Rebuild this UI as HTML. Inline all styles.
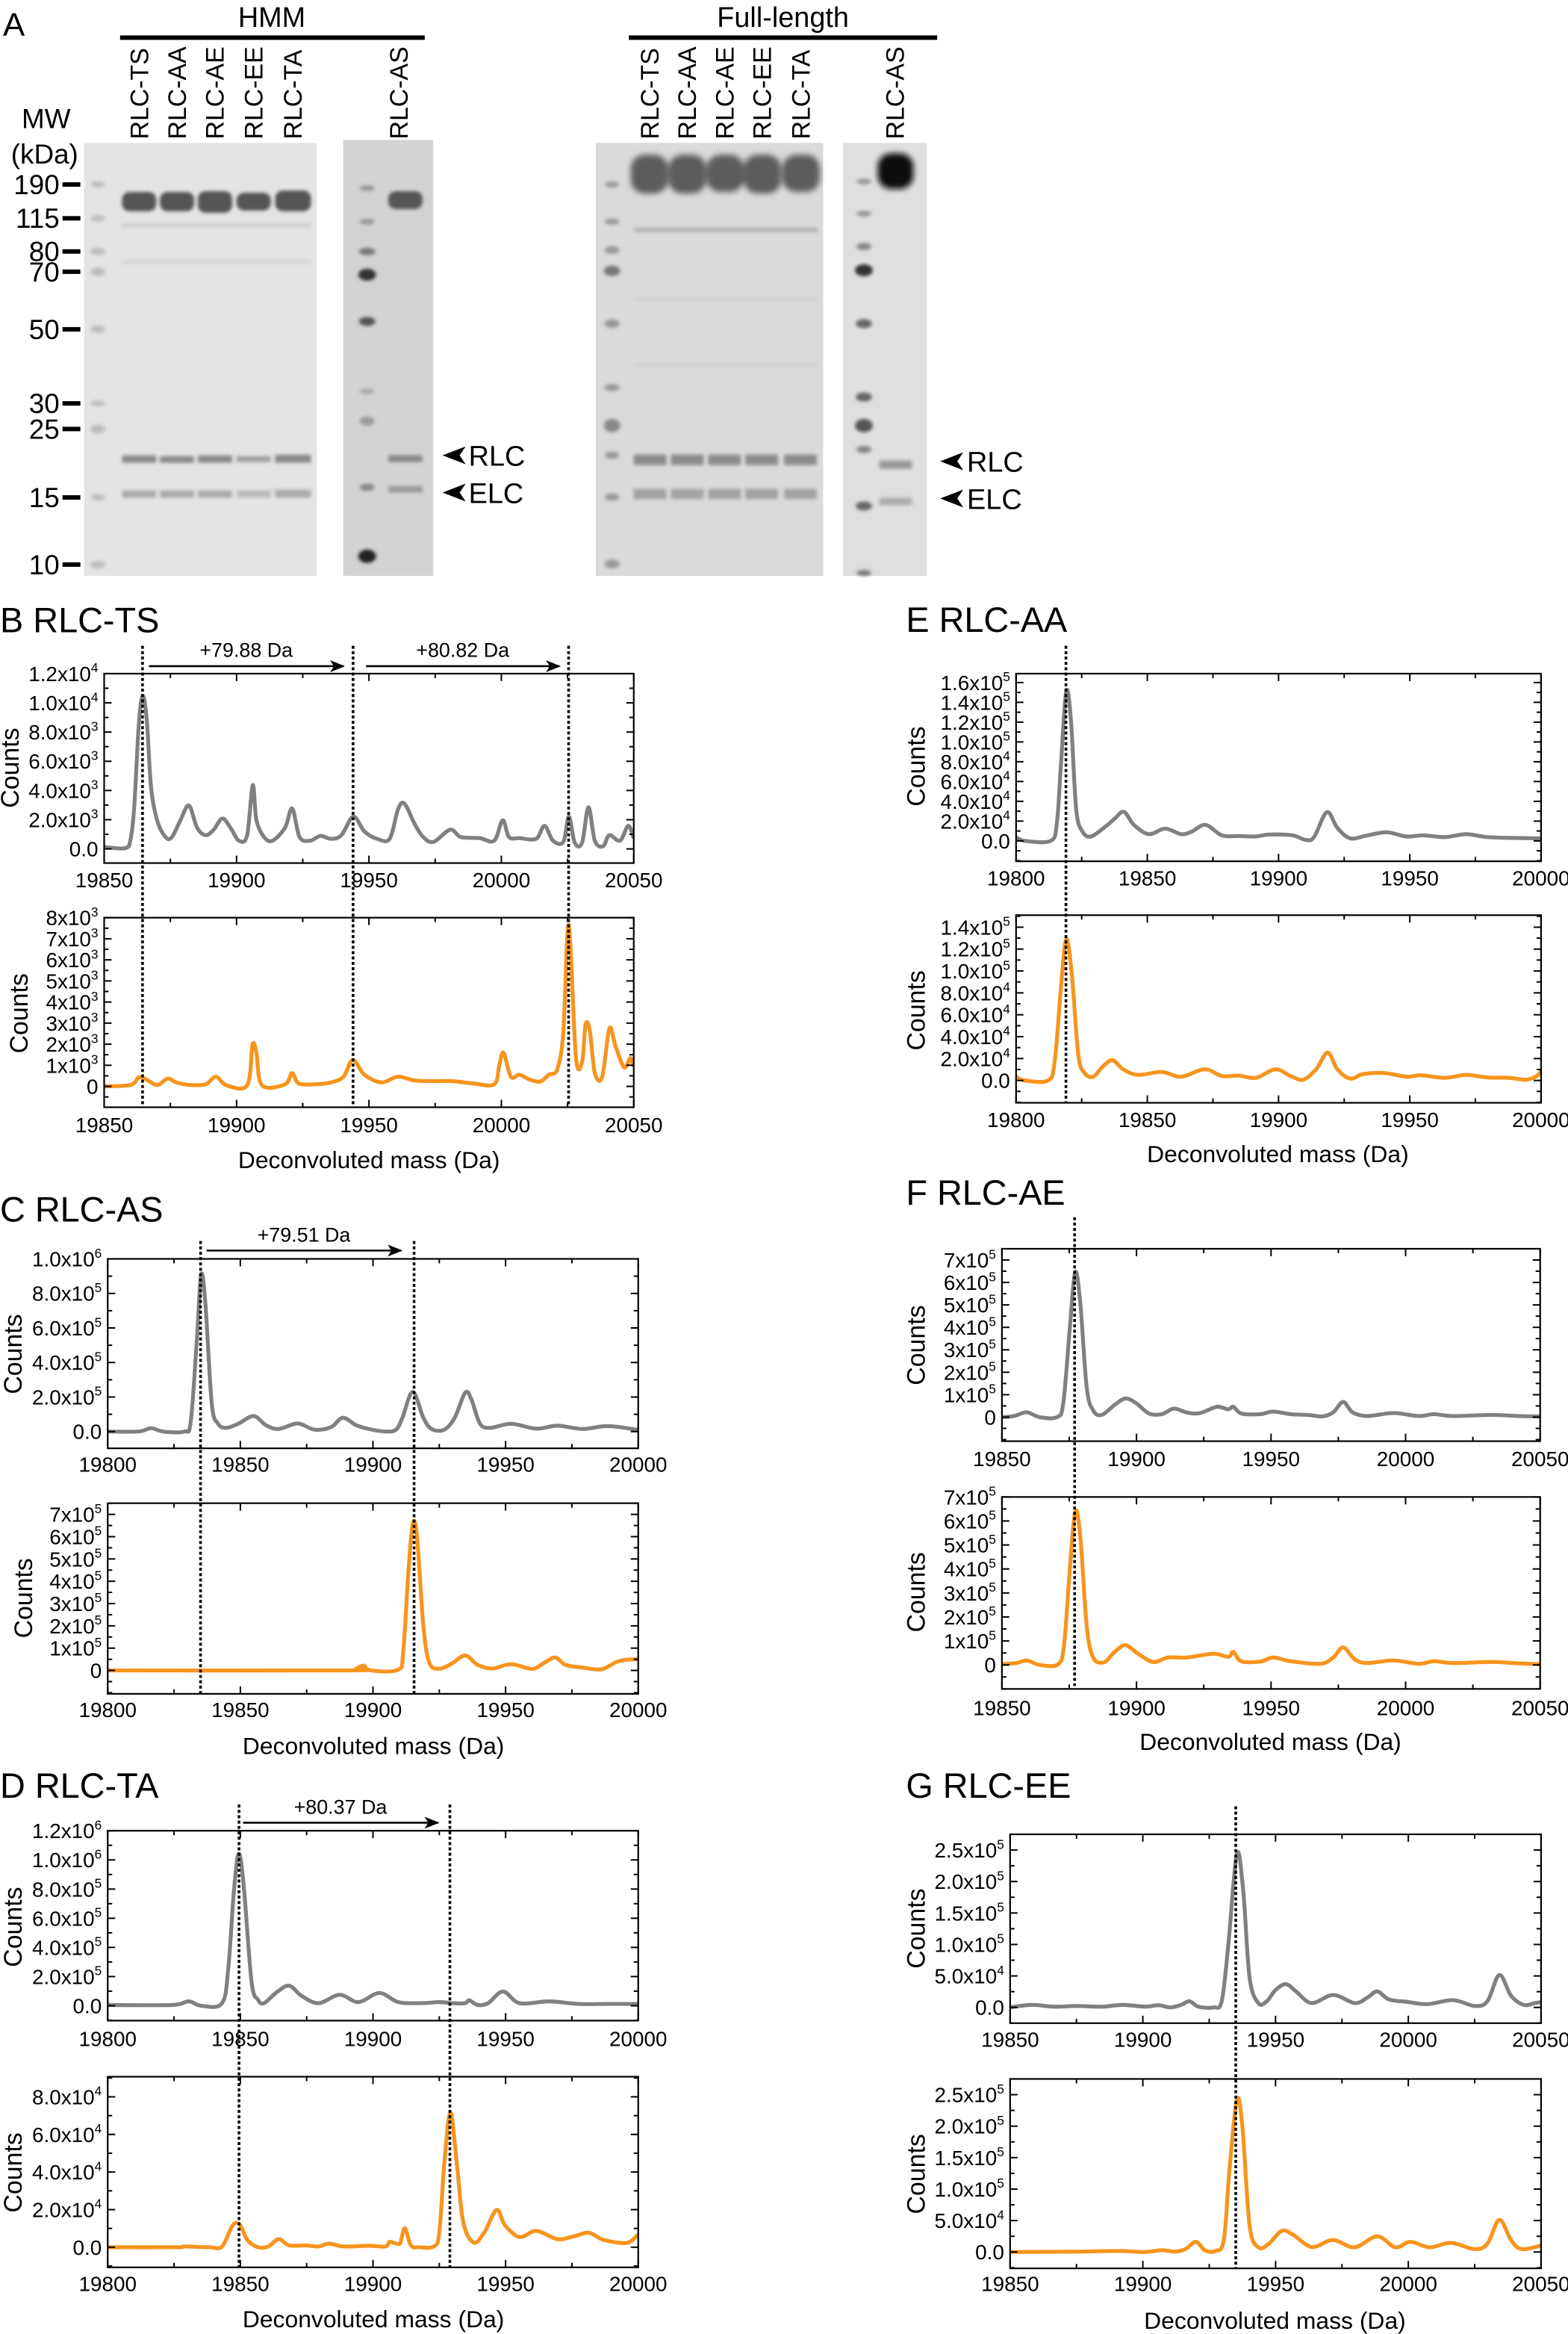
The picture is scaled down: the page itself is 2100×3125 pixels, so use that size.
<!DOCTYPE html>
<html><head><meta charset="utf-8"><title>RLC gels and mass spectra</title>
<style>
html,body{margin:0;padding:0;background:#fff;}
svg{display:block;font-family:"Liberation Sans",Arial,sans-serif;}
</style></head>
<body>
<svg id="fig" width="2100" height="3125" viewBox="0 0 1054 1568.5" xmlns="http://www.w3.org/2000/svg">
<defs>
<filter id="blur1" x="-50%" y="-50%" width="200%" height="200%"><feGaussianBlur stdDeviation="1.2"/></filter>
<filter id="blur2" x="-50%" y="-50%" width="200%" height="200%"><feGaussianBlur stdDeviation="2"/></filter>
<marker id="arrowhead" markerWidth="10" markerHeight="8" refX="9" refY="4" orient="auto" markerUnits="userSpaceOnUse"><path d="M0,0 L10,4 L0,8 L2.5,4 Z" fill="#000"/></marker>
</defs>
<rect x="0" y="0" width="1054" height="1568.5" fill="#fff"/>
<g>
<text x="2" y="24" font-size="22">A</text>
<text x="182.7" y="18" font-size="19" text-anchor="middle">HMM</text>
<rect x="80.7" y="23.8" width="204.8" height="3" fill="#000"/>
<text x="526.3" y="18" font-size="19" text-anchor="middle">Full-length</text>
<rect x="422.7" y="23.8" width="207.3" height="3" fill="#000"/>
<g font-size="17">
<text transform="translate(99.5,93.6) rotate(-90)">RLC-TS</text>
<text transform="translate(124.9,93.6) rotate(-90)">RLC-AA</text>
<text transform="translate(150.3,93.6) rotate(-90)">RLC-AE</text>
<text transform="translate(176.5,93.6) rotate(-90)">RLC-EE</text>
<text transform="translate(202.7,93.6) rotate(-90)">RLC-TA</text>
<text transform="translate(274.1,93.6) rotate(-90)">RLC-AS</text>
<text transform="translate(442.7,93.6) rotate(-90)">RLC-TS</text>
<text transform="translate(467.7,93.6) rotate(-90)">RLC-AA</text>
<text transform="translate(493.1,93.6) rotate(-90)">RLC-AE</text>
<text transform="translate(518.1,93.6) rotate(-90)">RLC-EE</text>
<text transform="translate(544.3,93.6) rotate(-90)">RLC-TA</text>
<text transform="translate(607.6,93.6) rotate(-90)">RLC-AS</text>
</g>
<text x="31" y="86" font-size="18.5" text-anchor="middle">MW</text>
<text x="30" y="110" font-size="18.5" text-anchor="middle">(kDa)</text>
<g font-size="18.5" text-anchor="end">
<text x="40" y="130.5">190</text><rect x="42" y="122.5" width="12" height="3" fill="#000"/>
<text x="40" y="153.2">115</text><rect x="42" y="145.2" width="12" height="3" fill="#000"/>
<text x="40" y="175.5">80</text><rect x="42" y="167.5" width="12" height="3" fill="#000"/>
<text x="40" y="189.1">70</text><rect x="42" y="181.1" width="12" height="3" fill="#000"/>
<text x="40" y="227.8">50</text><rect x="42" y="219.8" width="12" height="3" fill="#000"/>
<text x="40" y="277.6">30</text><rect x="42" y="269.6" width="12" height="3" fill="#000"/>
<text x="40" y="294.8">25</text><rect x="42" y="286.8" width="12" height="3" fill="#000"/>
<text x="40" y="340.8">15</text><rect x="42" y="332.8" width="12" height="3" fill="#000"/>
<text x="40" y="385.9">10</text><rect x="42" y="377.9" width="12" height="3" fill="#000"/>
</g>
<g>
<rect x="56.5" y="96" width="156.5" height="291" fill="#e4e4e4"/>
<g fill="#bdbdbd" filter="url(#blur1)">
<ellipse cx="65.7" cy="124" rx="5" ry="2.2"/><ellipse cx="65.7" cy="146.7" rx="5" ry="2.2"/><ellipse cx="65.7" cy="169" rx="5" ry="2.5"/><ellipse cx="65.7" cy="182.6" rx="5" ry="3"/><ellipse cx="65.7" cy="221.3" rx="5" ry="2.5"/><ellipse cx="65.7" cy="271.1" rx="5" ry="2"/><ellipse cx="65.7" cy="288.3" rx="5" ry="3"/><ellipse cx="65.7" cy="334.3" rx="5" ry="2.2"/><ellipse cx="65.7" cy="379.4" rx="5" ry="2.5"/>
</g>
<g fill="#555" filter="url(#blur1)">
<rect x="82" y="129" width="23" height="13" rx="5"/><rect x="107.5" y="129" width="23" height="13" rx="5"/><rect x="133" y="128.5" width="23" height="14.5" rx="5"/><rect x="159" y="129.5" width="23" height="12" rx="5"/><rect x="185" y="128" width="24" height="14" rx="5"/>
</g>
<g fill="#d2d2d2" filter="url(#blur1)"><rect x="82" y="150" width="127" height="3"/><rect x="82" y="175" width="127" height="2"/></g>
<g fill="#8a8a8a" filter="url(#blur1)">
<rect x="82" y="306" width="23" height="5"/><rect x="107.5" y="306.5" width="23" height="4.5"/><rect x="133" y="306" width="23" height="5"/><rect x="159" y="306.5" width="23" height="4" fill="#a0a0a0"/><rect x="185" y="305.5" width="24" height="5.5"/>
</g>
<g fill="#ababab" filter="url(#blur1)">
<rect x="82" y="329.5" width="23" height="5"/><rect x="107.5" y="329.5" width="23" height="5"/><rect x="133" y="329.5" width="23" height="5"/><rect x="159" y="329.5" width="23" height="5" fill="#bbb"/><rect x="185" y="329" width="24" height="5.5"/>
</g>
</g>
<g>
<rect x="230.7" y="94" width="60.5" height="293" fill="#d3d3d3"/>
<g filter="url(#blur1)">
<ellipse cx="246.8" cy="126.5" rx="5" ry="2" fill="#999"/><ellipse cx="246.8" cy="149" rx="5" ry="2" fill="#999"/><ellipse cx="246.8" cy="169" rx="5.5" ry="2.5" fill="#777"/><ellipse cx="246.8" cy="184.6" rx="6" ry="4" fill="#333"/><ellipse cx="246.8" cy="216" rx="5.5" ry="3" fill="#555"/><ellipse cx="246.8" cy="263" rx="5" ry="2" fill="#aaa"/><ellipse cx="246.8" cy="283" rx="5" ry="3" fill="#999"/><ellipse cx="246.8" cy="327.5" rx="5" ry="2.5" fill="#888"/><ellipse cx="246.8" cy="373.8" rx="6" ry="4.5" fill="#222"/>
<rect x="261" y="128.5" width="23" height="12" rx="5" fill="#555"/>
<rect x="261" y="306" width="23" height="4.5" fill="#888"/>
<rect x="261" y="326.5" width="23" height="4.5" fill="#9a9a9a"/>
</g>
</g>
<g>
<polygon points="297.5,306 313,300 309,306 313,312" fill="#000"/>
<text x="315" y="313" font-size="19">RLC</text>
<polygon points="297.5,331 313,325 309,331 313,337" fill="#000"/>
<text x="315" y="338" font-size="19">ELC</text>
</g>
<g>
<rect x="400.5" y="96" width="152.8" height="291" fill="#dadada"/>
<g fill="#999" filter="url(#blur1)">
<ellipse cx="411.4" cy="124" rx="5" ry="2"/><ellipse cx="411.4" cy="149" rx="5" ry="2"/><ellipse cx="411.4" cy="168" rx="5" ry="2.5"/><ellipse cx="411.4" cy="182" rx="5.5" ry="3.5" fill="#777"/><ellipse cx="411.4" cy="217.5" rx="5" ry="3"/><ellipse cx="411.4" cy="260.5" rx="5" ry="2.5"/><ellipse cx="411.4" cy="286" rx="5.5" ry="4.5" fill="#888"/><ellipse cx="411.4" cy="306" rx="5" ry="2.5"/><ellipse cx="411.4" cy="334" rx="5" ry="2.5"/><ellipse cx="411.4" cy="379" rx="5" ry="3"/>
</g>
<g fill="#5c5c5c" filter="url(#blur2)">
<rect x="424" y="104" width="25" height="26" rx="9"/><rect x="449.5" y="104" width="25" height="26" rx="9"/><rect x="475" y="104" width="25" height="25" rx="9"/><rect x="500" y="104" width="25" height="26" rx="9"/><rect x="526" y="104" width="25" height="25" rx="9"/>
</g>
<g fill="#b5b5b5" filter="url(#blur1)"><rect x="426" y="153" width="124" height="3"/><rect x="426" y="200" width="124" height="2" fill="#cdcdcd"/><rect x="426" y="244" width="124" height="2" fill="#cdcdcd"/></g>
<g fill="#8c8c8c" filter="url(#blur1)">
<rect x="426" y="305.5" width="22" height="7"/><rect x="451" y="305.5" width="22" height="7"/><rect x="476" y="305.5" width="22" height="7"/><rect x="501" y="305.5" width="22" height="7"/><rect x="527" y="305.5" width="22" height="7"/>
</g>
<g fill="#a3a3a3" filter="url(#blur1)">
<rect x="426" y="328.5" width="22" height="7"/><rect x="451" y="328.5" width="22" height="7"/><rect x="476" y="328.5" width="22" height="7"/><rect x="501" y="328.5" width="22" height="7"/><rect x="527" y="328.5" width="22" height="7"/>
</g>
</g>
<g>
<rect x="566.7" y="96" width="56.3" height="291" fill="#dfdfdf"/>
<g filter="url(#blur1)">
<ellipse cx="580.7" cy="122" rx="5" ry="2" fill="#999"/><ellipse cx="580.7" cy="143.6" rx="5" ry="2" fill="#999"/><ellipse cx="580.7" cy="165.7" rx="5" ry="2.5" fill="#888"/><ellipse cx="580.7" cy="181.6" rx="6" ry="4" fill="#333"/><ellipse cx="580.7" cy="217.5" rx="5.5" ry="3" fill="#666"/><ellipse cx="580.7" cy="266.8" rx="5.5" ry="3" fill="#666"/><ellipse cx="580.7" cy="286" rx="6" ry="4.5" fill="#555"/><ellipse cx="580.7" cy="302" rx="5" ry="2.5" fill="#888"/><ellipse cx="580.7" cy="340" rx="5.5" ry="3" fill="#666"/><ellipse cx="580.7" cy="385" rx="5" ry="2" fill="#777"/>
<rect x="591" y="309.5" width="22" height="5.5" fill="#9a9a9a"/>
<rect x="591" y="334.5" width="22" height="5" fill="#acacac"/>
</g>
<rect x="590" y="103" width="24" height="24" rx="9" fill="#111" filter="url(#blur2)"/>
</g>
<g>
<polygon points="632,310 647.5,304 643.5,310 647.5,316" fill="#000"/>
<text x="650" y="317" font-size="19">RLC</text>
<polygon points="632,335 647.5,329 643.5,335 647.5,341" fill="#000"/>
<text x="650" y="342" font-size="19">ELC</text>
</g>
</g>
<g font-size="23.5">
<text x="0" y="425">B  RLC-TS</text>
<text x="0" y="821">C RLC-AS</text>
<text x="0" y="1208">D  RLC-TA</text>
<text x="609" y="424.5">E  RLC-AA</text>
<text x="609" y="809.5">F  RLC-AE</text>
<text x="609" y="1208">G RLC-EE</text>
</g>
<g id="charts"></g>
</svg>
<script>
const xTicksB = [19850, 19900, 19950, 20000, 20050];
const xTicksC = [19800, 19850, 19900, 19950, 20000];

const bTopMass = [19850,19858,19860,19861.4,19863,19864.5,19866.1,19867.7,19870,19873.2,19875.6,19878.8,19882,19885.1,19888.3,19891.4,19894.6,19897.7,19900.9,19904,19906.1,19907.5,19910.4,19913.6,19918.3,19921,19923.8,19927.8,19931.7,19935.7,19939.6,19944.1,19948.3,19953.1,19957.8,19961,19963.4,19967.3,19970.5,19974.4,19980.7,19984.7,19991.8,19997.3,20000.5,20002.9,20006.8,20013.1,20016.3,20019.5,20023.4,20025.5,20027.7,20030.5,20032.9,20035.3,20038.4,20040.8,20044.8,20047.9,20049.8];
const bTopCounts = [130,50,690,2970,8300,10470,8820,4250,1960,810,810,1960,2970,1450,940,1320,2080,1450,560,940,4370,1960,810,560,1450,2770,810,560,890,690,940,2210,1190,690,690,2720,3100,1700,810,480,1320,810,740,560,1960,810,740,690,1580,560,480,2210,430,430,2850,560,180,940,560,1580,810];
const bBotMass = [19850,19860,19863,19865.3,19870,19874,19877.2,19882,19888.3,19892.2,19896.2,19904,19906,19907.5,19909.6,19918.3,19921,19923.4,19929.4,19935.7,19940.4,19943.9,19948.3,19954.7,19961,19967.3,19975.2,19981.5,19989.4,19997.3,19999.2,20000.8,20003.6,20006.8,20010.8,20014.7,20017.9,20021.1,20023.4,20025,20026.1,20028.2,20030.5,20031.8,20033.4,20035.3,20038.1,20040.8,20043.2,20046.4,20048.7,20049.8];
const bBotCounts = [0,70,420,370,70,370,190,70,100,460,50,50,1960,1600,50,100,630,140,100,190,460,1250,550,190,460,280,250,250,140,100,990,1600,460,550,320,230,550,810,2570,7330,6620,1340,1160,2930,2660,630,460,2750,1870,900,1340,990];
const bYTicksTop = [0,2000,4000,6000,8000,10000,12000];
const bYLabelsTop = ["0.0","2.0x10^3","4.0x10^3","6.0x10^3","8.0x10^3","1.0x10^4","1.2x10^4"];
const bYTicksBot = [0,1000,2000,3000,4000,5000,6000,7000,8000];
const bYLabelsBot = ["0","1x10^3","2x10^3","3x10^3","4x10^3","5x10^3","6x10^3","7x10^3","8x10^3"];
const bMarkers = [19864.5, 19944, 20025.4];
const bShiftStart = [19866.9, 19948.9];
const bShiftEnd = [19940.4, 20021.9];
const bShiftLabels = ["+79.88 Da", "+80.82 Da"];

const cTopMass = [19800,19811.5,19816.3,19821,19828.9,19831.3,19833.6,19835.2,19836.8,19839.2,19841.5,19844.7,19849.4,19855,19859.7,19864.5,19871.6,19877.9,19884.2,19888.6,19893.7,19898.4,19904.7,19908.7,19911.1,19915,19919,19922.1,19926.9,19930.8,19934.8,19937.1,19940.3,19944.2,19952.1,19961.6,19969.5,19979,19988.5,19999.5];
const cTopCounts = [0,0,19000,0,0,58000,531000,907000,746000,166000,47000,21500,47000,90000,36500,15000,47000,11000,26000,80000,36500,15000,0,11000,80000,230000,80000,15000,11000,80000,226000,187000,47000,21500,45000,17000,34000,15000,32000,11000];
const cBotMass = [19800,19890.5,19893.7,19896.5,19899.2,19909.5,19911.4,19913.4,19915,19916.6,19919,19921.3,19925.3,19930,19934.8,19939.5,19945,19952.1,19960,19964.4,19968.7,19972.6,19979,19986.1,19991.6,19994.8,19999.5];
const cBotCounts = [0,0,8300,21700,0,3300,83000,450000,658000,600000,200000,33000,8300,33000,67000,25000,8300,28000,6700,33000,58000,25000,13000,5000,37000,47000,50000];
const cYTicksTop = [0,200000,400000,600000,800000,1000000];
const cYLabelsTop = ["0.0","2.0x10^5","4.0x10^5","6.0x10^5","8.0x10^5","1.0x10^6"];
const cYTicksBot = [0,100000,200000,300000,400000,500000,600000,700000];
const cYLabelsBot = ["0","1x10^5","2x10^5","3x10^5","4x10^5","5x10^5","6x10^5","7x10^5"];
const cMarkers = [19835, 19915.5];
const cShiftStart = [19837.3];
const cShiftEnd = [19910.6];
const cShiftLabels = ["+79.51 Da"];

const dTopMass = [19800,19824.2,19830.5,19835.2,19843.1,19845.5,19847.6,19849.4,19851.3,19854.2,19856.6,19858.9,19863.7,19868.4,19873.1,19879.5,19887.4,19894.5,19902.4,19909.5,19917.4,19925.3,19930,19934.8,19936.3,19939.5,19943.4,19949,19955.3,19966.4,19977.4,19988.5,19999.5];
const dTopCounts = [5000,5000,30000,0,17500,267000,792000,1042000,817000,167000,42500,17500,92500,137500,67500,17500,75000,25000,87500,25000,17500,25000,17500,17500,37500,5000,17500,97500,17500,30000,12500,12500,12500];
const dBotMass = [19800,19825.7,19828.9,19838.4,19843.1,19847.1,19849.8,19852.6,19856.6,19860.5,19864.5,19868.4,19874.7,19879.5,19883.4,19888.9,19898.4,19904.7,19906.3,19908.7,19910.3,19912,19914.3,19917.4,19922.9,19925,19926.9,19929.2,19931.6,19934,19937.9,19941.9,19946.6,19949.8,19955.3,19961.6,19969.5,19975.8,19981.4,19986.9,19995.6,19999.5];
const dBotCounts = [0,0,390,0,390,11600,12000,3900,0,390,4300,970,970,390,1940,390,770,390,2900,1940,2300,10100,970,0,390,7700,44600,71700,44600,13600,2500,7700,19800,11600,5400,8700,4300,5800,7700,3900,2300,6200];
const dYTicksTop = [0,200000,400000,600000,800000,1000000,1200000];
const dYLabelsTop = ["0.0","2.0x10^5","4.0x10^5","6.0x10^5","8.0x10^5","1.0x10^6","1.2x10^6"];
const dYTicksBot = [0,20000,40000,60000,80000];
const dYLabelsBot = ["0.0","2.0x10^4","4.0x10^4","6.0x10^4","8.0x10^4"];
const dMarkers = [19849.5, 19929];
const dShiftStart = [19851];
const dShiftEnd = [19924.5];
const dShiftLabels = ["+80.37 Da"];

const eTopMass = [19800,19803.3,19813.1,19815.5,19817.1,19819.1,19820.9,19822.9,19825.3,19828.6,19834.3,19837.6,19841.1,19844.9,19850.6,19856.8,19862.9,19866.9,19872.2,19878.4,19884.9,19891.4,19896.3,19905.3,19910.2,19913.5,19918.4,19922.4,19927.3,19933.9,19941.2,19948.6,19955.1,19963.3,19971.4,19979.6,19989.4,19999.2];
const eTopCounts = [3800,0,0,17000,77000,151000,122000,32000,9400,4500,15000,22600,29400,16200,6800,12400,6800,9400,16200,5600,4900,4500,6400,5600,1100,3800,29000,13200,2600,5600,8700,4500,5600,3800,6800,3800,3000,2600];
const eBotMass = [19800,19803.3,19812.2,19814.7,19817.1,19819.1,19821.2,19823.7,19826.1,19829.4,19832.7,19836.7,19840.8,19846.5,19855.5,19862.9,19871.8,19878.4,19884.9,19891.4,19898.8,19904.5,19909.4,19914.3,19918.7,19922.4,19927.3,19932.2,19940.4,19948.6,19954.3,19963.3,19971.4,19979.6,19987.8,19994.3,19998.4,20000];
const eBotCounts = [3400,0,0,17000,85000,129000,98000,23700,6800,3400,11900,18600,10200,5100,7800,3400,10200,4100,4400,2400,10200,4100,700,10200,25400,10200,1700,5800,6800,3400,4700,2400,5100,2700,2400,700,4100,8500];
const eYTicksTop = [0,20000,40000,60000,80000,100000,120000,140000,160000];
const eYLabelsTop = ["0.0","2.0x10^4","4.0x10^4","6.0x10^4","8.0x10^4","1.0x10^5","1.2x10^5","1.4x10^5","1.6x10^5"];
const eYTicksBot = [0,20000,40000,60000,80000,100000,120000,140000];
const eYLabelsBot = ["0.0","2.0x10^4","4.0x10^4","6.0x10^4","8.0x10^4","1.0x10^5","1.2x10^5","1.4x10^5"];
const eMarkers = [19819];

const fTopMass = [19850,19854.5,19859.2,19864,19870.4,19872.8,19875.2,19877.2,19879.1,19881.5,19883.9,19887.1,19891.9,19895.9,19899.8,19904.6,19909.4,19913.9,19918.9,19923.7,19929.8,19934.1,19936,19938.9,19946,19950.8,19957.2,19963.5,19969.1,19973.1,19976.8,19980.3,19985.8,19995.4,20004.9,20010.5,20017.7,20032,20041.6,20049.5];
const fTopCounts = [0,5000,21500,0,0,63000,394000,645000,510000,132000,30000,10000,55000,83000,63000,16500,13200,38000,20000,18200,46000,35000,46000,16500,13200,25000,13200,10000,3300,21500,68000,21500,5000,18200,5000,13200,5000,10000,5000,3300];
const fBotMass = [19850,19855.3,19859.2,19864,19870.9,19873.1,19875.2,19877.2,19879.1,19881.5,19883.9,19887.9,19891.9,19895.9,19900.6,19906.2,19911.8,19918.9,19928.5,19934.1,19936,19938.9,19946,19950.8,19957.2,19968.3,19973.1,19976.8,19981.1,19985.8,19995.4,20004.9,20010.5,20017.7,20032,20040,20049.5];
const fBotCounts = [3000,7800,18700,0,3000,85600,394000,638000,537000,163000,31000,10900,54500,82500,46700,12400,31000,31000,46700,34000,54500,15600,14000,31000,15600,4700,31000,73000,23300,7800,18700,4700,15600,7800,12400,7800,3000];
const fYTicks = [0,100000,200000,300000,400000,500000,600000,700000];
const fYLabels = ["0","1x10^5","2x10^5","3x10^5","4x10^5","5x10^5","6x10^5","7x10^5"];
const fMarkers = [19877];

const gTopMass = [19850,19857.9,19866.8,19874.9,19884.5,19892.6,19900.7,19905.9,19910.4,19914.4,19917.6,19920.9,19926.5,19929.7,19932.2,19935.4,19937.8,19940.2,19943.5,19946.7,19949.9,19953.9,19958,19963.6,19971.7,19979.8,19984.6,19988.3,19992.7,19999.9,20007.2,20016.9,20025,20029.8,20034.3,20038.7,20043.5,20047.6,20050];
const gTopCounts = [0,4000,1200,2300,1200,4000,1200,3500,0,4000,9800,1200,0,9800,99500,244000,186000,47500,6900,9800,27200,37000,24300,6900,19700,6900,15600,25500,12700,8700,5200,11600,2300,9800,51500,18500,4000,6900,8700];
const gBotMass = [19850,19874.9,19891,19900.7,19907.1,19912,19916,19920,19923.3,19927.3,19930.5,19932.6,19935.4,19937.5,19940.2,19943.5,19947.5,19952.3,19956.4,19962,19965.3,19971.7,19979.8,19988.3,19995.1,20000.8,20008,20016.1,20025,20029.8,20034.3,20038.7,20042.7,20050];
const gBotCounts = [0,600,1700,0,2900,600,4600,16200,2900,1700,19100,129000,242000,199000,42300,7500,13300,33600,27800,10400,8700,19100,7500,24900,7500,16200,7500,14500,4600,13300,51000,19100,4600,10400];
const gYTicks = [0,50000,100000,150000,200000,250000];
const gYLabels = ["0.0","5.0x10^4","1.0x10^5","1.5x10^5","2.0x10^5","2.5x10^5"];
const gMarkers = [19935];

const GRAY = "#808080", ORANGE = "#f7941d";
const NS = "http://www.w3.org/2000/svg";
const root = document.getElementById("charts");

const panels = [
 {key:"b", fx0:70, fx1:426, xmin:19850, xmax:20050, xTicks:xTicksB, markers:bMarkers, mTop:434, mBot:744.1,
  shifts:{s:bShiftStart,e:bShiftEnd,l:bShiftLabels}, shiftY:447.7, shiftLabelY:443.5, xTitleY:785, xTitleX:248,
  plots:[
   {name:"b-top", y0:452.7, y1:580, ymin:-970, ymax:12000, mass:bTopMass, counts:bTopCounts, yt:bYTicksTop, yl:bYLabelsTop, minor:1000, color:GRAY, xlY:596.3, cx:7, cy:516},
   {name:"b-bottom", y0:616.7, y1:744.1, ymin:-990, ymax:8000, mass:bBotMass, counts:bBotCounts, yt:bYTicksBot, yl:bYLabelsBot, minor:500, color:ORANGE, xlY:761, cx:13, cy:681}]},
 {key:"c", fx0:72.4, fx1:429, xmin:19800, xmax:20000, xTicks:xTicksC, markers:cMarkers, mTop:834, mBot:1139,
  shifts:{s:cShiftStart,e:cShiftEnd,l:cShiftLabels}, shiftY:840.4, shiftLabelY:836.5, xTitleY:1178.8, xTitleX:251,
  plots:[
   {name:"c-top", y0:846, y1:973.3, ymin:-97000, ymax:1000000, mass:cTopMass, counts:cTopCounts, yt:cYTicksTop, yl:cYLabelsTop, minor:100000, color:GRAY, xlY:989, cx:9, cy:910},
   {name:"c-bottom", y0:1010.2, y1:1138.3, ymin:-105000, ymax:750000, mass:cBotMass, counts:cBotCounts, yt:cYTicksBot, yl:cYLabelsBot, minor:50000, color:ORANGE, xlY:1153.8, cx:16, cy:1074}]},
 {key:"d", fx0:72.4, fx1:429, xmin:19800, xmax:20000, xTicks:xTicksC, markers:dMarkers, mTop:1212.7, mBot:1523.7,
  shifts:{s:dShiftStart,e:dShiftEnd,l:dShiftLabels}, shiftY:1224.9, shiftLabelY:1221, xTitleY:1564, xTitleX:251,
  plots:[
   {name:"d-top", y0:1230.3, y1:1357.9, ymin:-102000, ymax:1200000, mass:dTopMass, counts:dTopCounts, yt:dYTicksTop, yl:dYLabelsTop, minor:100000, color:GRAY, xlY:1375, cx:9, cy:1295},
   {name:"d-bottom", y0:1395.6, y1:1523.7, ymin:-10700, ymax:90700, mass:dBotMass, counts:dBotCounts, yt:dYTicksBot, yl:dYLabelsBot, minor:10000, color:ORANGE, xlY:1539.6, cx:9, cy:1460}]},
 {key:"e", fx0:683, fx1:1035.9, xmin:19800, xmax:20000, xTicks:xTicksC, markers:eMarkers, mTop:434, mBot:741.1,
  shifts:null, xTitleY:781, xTitleX:859,
  plots:[
   {name:"e-top", y0:452.7, y1:578.8, ymin:-20600, ymax:169000, mass:eTopMass, counts:eTopCounts, yt:eYTicksTop, yl:eYLabelsTop, minor:10000, color:GRAY, xlY:595, cx:616, cy:515},
   {name:"e-bottom", y0:615, y1:741.1, ymin:-20400, ymax:151000, mass:eBotMass, counts:eBotCounts, yt:eYTicksBot, yl:eYLabelsBot, minor:10000, color:ORANGE, xlY:757.3, cx:616, cy:679}]},
 {key:"f", fx0:673.5, fx1:1035.3, xmin:19850, xmax:20050, xTicks:xTicksB, markers:fMarkers, mTop:818, mBot:1133,
  shifts:null, xTitleY:1176, xTitleX:854,
  plots:[
   {name:"f-top", y0:839.2, y1:968.5, ymin:-107000, ymax:750000, mass:fTopMass, counts:fTopCounts, yt:fYTicks, yl:fYLabels, minor:50000, color:GRAY, xlY:985.3, cx:616, cy:904},
   {name:"f-bottom", y0:1006, y1:1135, ymin:-100000, ymax:700000, mass:fBotMass, counts:fBotCounts, yt:fYTicks, yl:fYLabels, minor:50000, color:ORANGE, xlY:1152.6, cx:616, cy:1070}]},
 {key:"g", fx0:679, fx1:1035.9, xmin:19850, xmax:20050, xTicks:xTicksB, markers:gMarkers, mTop:1213.9, mBot:1524.9,
  shifts:null, xTitleY:1565, xTitleX:857,
  plots:[
   {name:"g-top", y0:1232.7, y1:1359.6, ymin:-25000, ymax:275000, mass:gTopMass, counts:gTopCounts, yt:gYTicks, yl:gYLabels, minor:25000, color:GRAY, xlY:1375.5, cx:616, cy:1296},
   {name:"g-bottom", y0:1397.1, y1:1524.4, ymin:-26000, ymax:275000, mass:gBotMass, counts:gBotCounts, yt:gYTicks, yl:gYLabels, minor:25000, color:ORANGE, xlY:1539.6, cx:616, cy:1461}]}
];

function mk(tag, attrs, parent){
  const el = document.createElementNS(NS, tag);
  for (const k in attrs) el.setAttribute(k, attrs[k]);
  parent.appendChild(el);
  return el;
}
function labelText(parent, x, y, str, size, anchor){
  const t = mk("text", {x:x, y:y, "font-size":size, "text-anchor":anchor}, parent);
  const parts = str.split("^");
  t.appendChild(document.createTextNode(parts[0]));
  if (parts.length > 1){
    const s = mk("tspan", {"font-size":size*0.62, dy:-size*0.42}, t);
    s.textContent = parts[1];
  }
  return t;
}
function smoothPath(pts){
  let d = "M" + pts[0][0].toFixed(2) + "," + pts[0][1].toFixed(2);
  for (let i=0;i<pts.length-1;i++){
    const p0 = pts[i-1]||pts[i], p1 = pts[i], p2 = pts[i+1], p3 = pts[i+2]||pts[i+1];
    const c1x = p1[0]+(p2[0]-p0[0])/6, c1y = p1[1]+(p2[1]-p0[1])/6;
    const c2x = p2[0]-(p3[0]-p1[0])/6, c2y = p2[1]-(p3[1]-p1[1])/6;
    d += " C"+c1x.toFixed(2)+","+c1y.toFixed(2)+" "+c2x.toFixed(2)+","+c2y.toFixed(2)+" "+p2[0].toFixed(2)+","+p2[1].toFixed(2);
  }
  return d;
}

panels.forEach(function(P){
  const pg = mk("g", {}, root);
  
  
  const xScale = function(m){ return P.fx0 + (m - P.xmin)/(P.xmax - P.xmin)*(P.fx1 - P.fx0); };

  P.plots.forEach(function(S){
    const g = mk("g", {}, pg);
    
    
    const yScale = function(v){ return S.y1 - (v - S.ymin)/(S.ymax - S.ymin)*(S.y1 - S.y0); };
    const clipId = "clip-" + S.name;
    const cp = mk("clipPath", {id:clipId}, g);
    mk("rect", {x:P.fx0, y:S.y0, width:P.fx1-P.fx0, height:S.y1-S.y0}, cp);

    const pts = S.mass.map(function(m,i){ return [xScale(m), yScale(S.counts[i])]; });
    const line = mk("path", {d:smoothPath(pts), fill:"none", stroke:S.color, "stroke-width":2.6, "stroke-linejoin":"round", "stroke-linecap":"round", "clip-path":"url(#"+clipId+")"}, g);
    
    

    const fr = mk("rect", {x:P.fx0, y:S.y0, width:P.fx1-P.fx0, height:S.y1-S.y0, fill:"none", stroke:"#000", "stroke-width":1.1}, g);
    
    

    const xt = mk("g", {stroke:"#000", "stroke-width":1}, g);
    
    
    const step = P.xTicks[1] - P.xTicks[0];
    P.xTicks.forEach(function(v, i){
      const x = xScale(v);
      mk("line", {x1:x, y1:S.y1, x2:x, y2:S.y1-5}, xt);
      mk("line", {x1:x, y1:S.y0, x2:x, y2:S.y0+5}, xt);
      if (i < P.xTicks.length-1){
        const xm = xScale(v + step/2);
        mk("line", {x1:xm, y1:S.y1, x2:xm, y2:S.y1-3}, xt);
        mk("line", {x1:xm, y1:S.y0, x2:xm, y2:S.y0+3}, xt);
      }
    });
    const xl = mk("g", {}, g);
    
    
    P.xTicks.forEach(function(v){
      const t = labelText(xl, xScale(v), S.xlY, String(v), 14, "middle");
      
      
    });

    const yt = mk("g", {stroke:"#000", "stroke-width":1}, g);
    
    
    S.yt.forEach(function(v){
      const y = yScale(v);
      mk("line", {x1:P.fx0, y1:y, x2:P.fx0+5, y2:y}, yt);
      mk("line", {x1:P.fx1, y1:y, x2:P.fx1-5, y2:y}, yt);
    });
    for (let v = Math.ceil(S.ymin/S.minor)*S.minor; v <= S.ymax; v += S.minor){
      if (S.yt.indexOf(v) >= 0) continue;
      const y = yScale(v);
      mk("line", {x1:P.fx0, y1:y, x2:P.fx0+3, y2:y}, yt);
      mk("line", {x1:P.fx1, y1:y, x2:P.fx1-3, y2:y}, yt);
    }
    const yl = mk("g", {}, g);
    
    
    S.yt.forEach(function(v, i){
      const t = labelText(yl, P.fx0-4, yScale(v)+5, S.yl[i], 14, "end");
      
      
    });

    const ct = mk("text", {x:0, y:0, "font-size":17, "text-anchor":"middle", "dominant-baseline":"central", transform:"translate("+S.cx+","+S.cy+") rotate(-90)"}, g);
    ct.textContent = "Counts";
    
    
  });

  const xtT = mk("text", {x:P.xTitleX, y:P.xTitleY, "font-size":16, "text-anchor":"middle"}, pg);
  xtT.textContent = "Deconvoluted mass (Da)";
  
  

  P.markers.forEach(function(m){
    const l = mk("line", {x1:xScale(m), y1:P.mTop, x2:xScale(m), y2:P.mBot, stroke:"#000", "stroke-width":1.8, "stroke-dasharray":"2,1.6"}, pg);
    
    
  });

  if (P.shifts){
    P.shifts.s.forEach(function(m, i){
      const x1 = xScale(m), x2 = xScale(P.shifts.e[i]);
      const a = mk("line", {x1:x1, y1:P.shiftY, x2:x2, y2:P.shiftY, stroke:"#000", "stroke-width":1.3, "marker-end":"url(#arrowhead)"}, pg);
      
      
      const t = mk("text", {x:(x1+x2)/2, y:P.shiftLabelY - 2, "font-size":13.5, "text-anchor":"middle"}, pg);
      t.textContent = P.shifts.l[i];
      
      
    });
  }
});
</script>
</body></html>
